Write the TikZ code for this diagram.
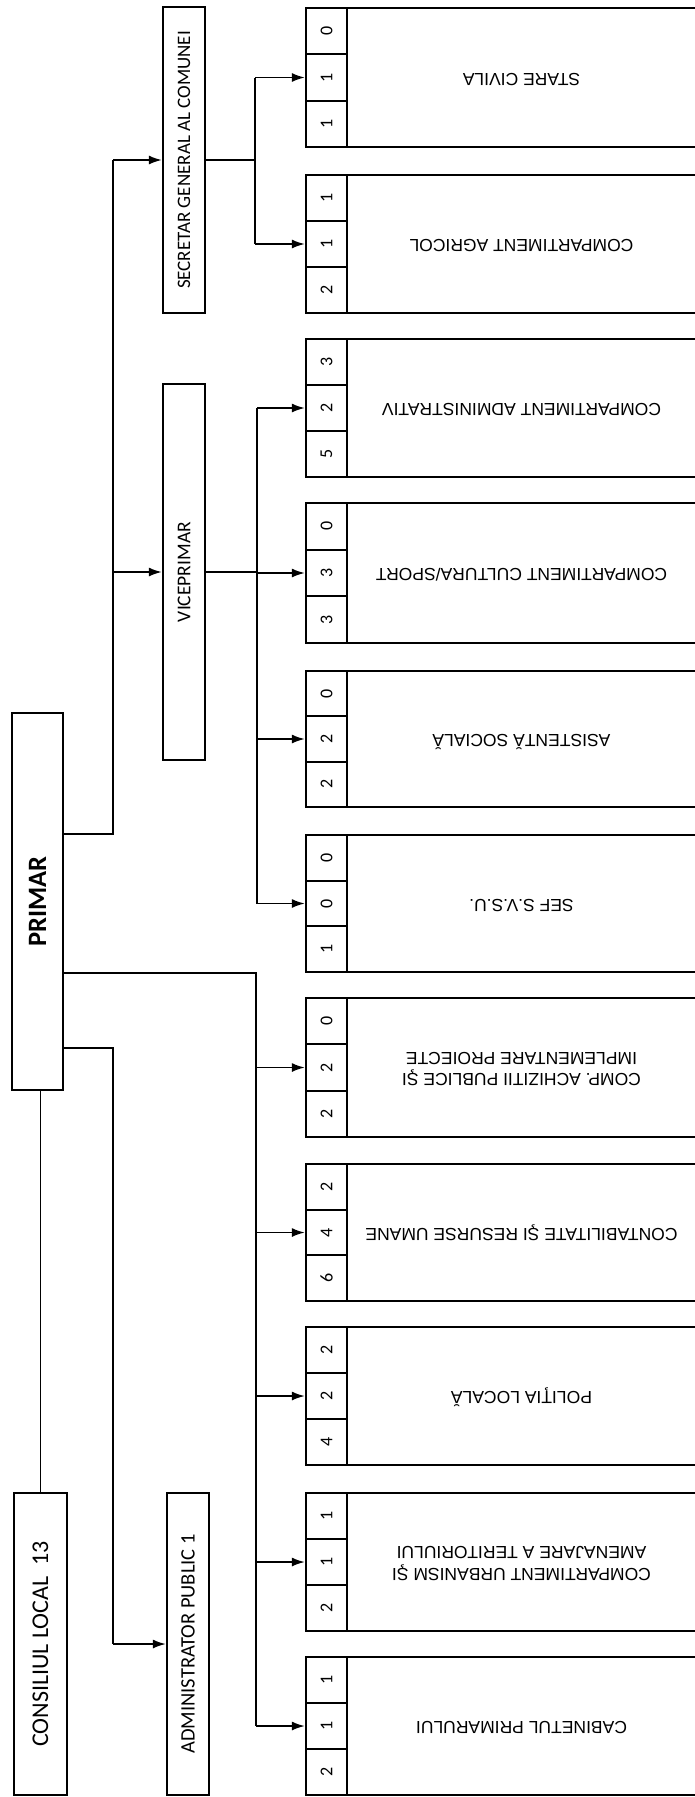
\documentclass[tikz,border=0pt]{standalone}
\usepackage{fontspec}
\setmainfont{Carlito}
\newfontfamily\arialf{Liberation Sans}
\usetikzlibrary{arrows.meta}
\begin{document}
\begin{tikzpicture}[x=1pt,y=-1pt,
  frame/.style={draw,line width=2.2pt,inner sep=0pt},
  leftbox/.style={frame,minimum width=#1},
  mainbox/.style={frame,minimum width=349pt,font=\arialf\fontsize{17.5}{21.5}\selectfont},
  cellbox/.style={frame,minimum width=41pt,font=\fontsize{18}{18}\selectfont},
  conn/.style={line width=1.8pt},
  arr/.style={conn,-{Latex[length=13pt,width=9pt]}}]
\useasboundingbox (0,0) rectangle (694,1797);
\fill[white] (0,0) rectangle (694,1797);

% left column
\node[leftbox=51pt,minimum height=377pt,font=\bfseries\fontsize{26.5}{26.5}\selectfont] (primar) at (37.5,901.5) {\rotatebox{90}{PRIMAR}};
\node[leftbox=53pt,minimum height=302pt,font=\fontsize{24}{24}\selectfont] (consiliul) at (40.5,1644) {\rotatebox{90}{CONSILIUL LOCAL\ \ 13}};
\node[leftbox=42pt,minimum height=302pt,font=\fontsize{20.5}{20.5}\selectfont] (admin) at (188,1644) {\rotatebox{90}{ADMINISTRATOR PUBLIC 1}};
\node[leftbox=42pt,minimum height=376pt,font=\fontsize{19.5}{19.5}\selectfont] (vice) at (184,572) {\rotatebox{90}{VICEPRIMAR}};
\node[leftbox=42pt,minimum height=306pt,font=\fontsize{19}{19}\selectfont] (secr) at (184,160) {\rotatebox{90}{SECRETAR GENERAL AL COMUNEI}};

% departments
\foreach \i/\ya/\yb/\lab/\da/\db/\dc in {
  1/8/147/{STARE CIVILA}/0/1/1,
  2/175/313/{COMPARTIMENT AGRICOL}/1/1/2,
  3/339/477/{COMPARTIMENT ADMINISTRATIV}/3/2/5,
  4/503/643/{COMPARTIMENT CULTURA/SPORT}/0/3/3,
  5/671/807/{ASISTENTĂ SOCIALĂ}/0/2/2,
  6/835/972/{SEF S.V.S.U.}/0/0/1,
  7/998/1137/{COMP. ACHIZITII PUBLICE ŞI\\IMPLEMENTARE PROIECTE}/0/2/2,
  8/1164/1301/{CONTABILITATE ŞI RESURSE UMANE}/2/4/6,
  9/1327/1465/{POLIŢIA LOCALĂ}/2/2/4,
  10/1493/1631/{COMPARTIMENT URBANISM ŞI\\AMENAJARE A TERITORIULUI}/1/1/2,
  11/1657/1795/{CABINETUL PRIMARULUI}/1/1/2}{
  \pgfmathsetmacro\hh{\yb-\ya}
  \pgfmathsetmacro\hc{\hh/3}
  \pgfmathsetmacro\ym{(\ya+\yb)/2}
  \node[mainbox,minimum height=\hh pt] (m\i) at (521.5,\ym) {\rotatebox{180}{\begin{tabular}{@{}c@{}}\lab\end{tabular}}};
  \node[cellbox,minimum height=\hc pt] (c\i-a) at (326.5,{\ya+\hc/2}) {\rotatebox{90}{\da}};
  \node[cellbox,minimum height=\hc pt] (c\i-b) at (326.5,{\ya+1.5*\hc}) {\rotatebox{90}{\db}};
  \node[cellbox,minimum height=\hc pt] (c\i-c) at (326.5,{\ya+2.5*\hc}) {\rotatebox{90}{\dc}};
}

% junctions
\coordinate (j1) at (113,834);
\coordinate (j2) at (256,973);
\coordinate (j3) at (255,160);
\coordinate (j4) at (257,572);
\coordinate (j5) at (113,1048);

% consiliul - primar
\draw[conn] (consiliul.north) -- (consiliul.north |- primar.south);

% primar -> secretar, viceprimar
\draw[conn] (primar.east |- j1) -- (j1) -- (j1 |- secr.west);
\draw[arr] (j1 |- secr.west) -- (secr.west);
\draw[arr] (j1 |- vice.west) -- (vice.west);

% primar -> admin
\draw[conn] (primar.east |- j5) -- (j5) -- (j5 |- admin.west);
\draw[arr] (j5 |- admin.west) -- (admin.west);

% primar -> departments
\draw[conn] (primar.east |- j2) -- (j2) -- (j2 |- c11-b.west);
\foreach \k in {7,8,9,10,11}{
  \draw[arr] (j2 |- c\k-b.west) -- (c\k-b.west);
}

% secretar -> departments
\draw[conn] (secr.east) -- (j3);
\draw[conn] (j3 |- c1-b.west) -- (j3 |- c2-b.west);
\foreach \k in {1,2}{
  \draw[arr] (j3 |- c\k-b.west) -- (c\k-b.west);
}

% viceprimar -> departments
\draw[conn] (vice.east) -- (j4);
\draw[conn] (j4 |- c3-b.west) -- (j4 |- c6-b.west);
\foreach \k in {3,4,5,6}{
  \draw[arr] (j4 |- c\k-b.west) -- (c\k-b.west);
}
\end{tikzpicture}
\end{document}
